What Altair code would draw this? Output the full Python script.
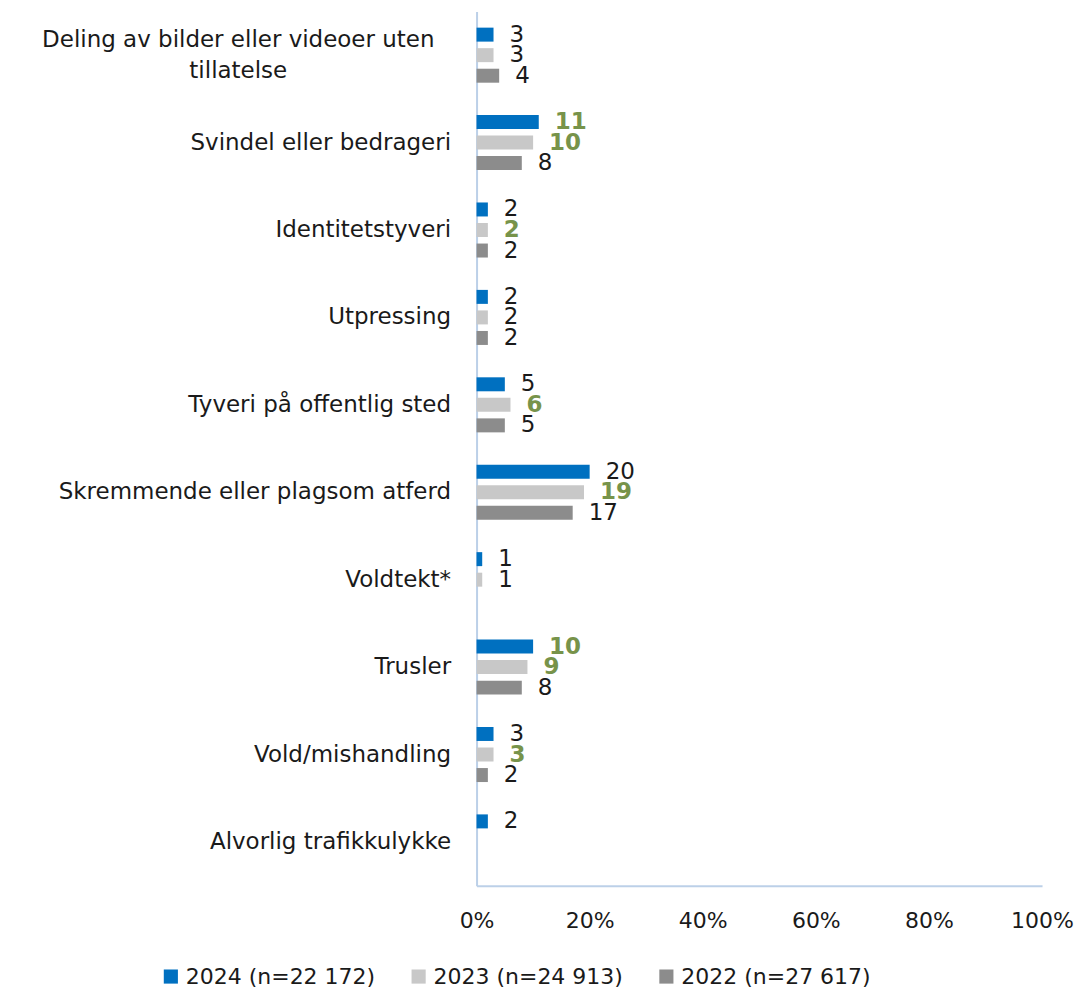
import altair as alt
import pandas as pd

categories = [
    "Deling av bilder eller videoer uten tillatelse",
    "Svindel eller bedrageri",
    "Identitetstyveri",
    "Utpressing",
    "Tyveri på offentlig sted",
    "Skremmende eller plagsom atferd",
    "Voldtekt*",
    "Trusler",
    "Vold/mishandling",
    "Alvorlig trafikkulykke",
]
series = ["2024 (n=22 172)", "2023 (n=24 913)", "2022 (n=27 617)"]
v2024 = [3, 11, 2, 2, 5, 20, 1, 10, 3, 2]
v2023 = [3, 10, 2, 2, 6, 19, 1, 9, 3, None]
v2022 = [4, 8, 2, 2, 5, 17, None, 8, 2, None]
sig2024 = [False, True, False, False, False, False, False, True, False, False]
sig2023 = [False, True, True, False, True, True, False, True, True, False]
sig2022 = [False] * 10
colors = ["#0070C0", "#C8C8C8", "#8C8C8C"]

rows = []
for s, vals, sig in zip(series, [v2024, v2023, v2022], [sig2024, sig2023, sig2022]):
    for c, v, g in zip(categories, vals, sig):
        if v is not None:
            rows.append({"cat": c, "series": s, "value": v, "sig": g})
df = pd.DataFrame(rows)

FONT = "DejaVu Sans"
FS = 22
LONG = "datum.value == 'Deling av bilder eller videoer uten tillatelse'"

base = alt.Chart(df).encode(
    y=alt.Y(
        "cat:N",
        sort=categories,
        title=None,
        scale=alt.Scale(paddingInner=0.3, paddingOuter=0.15),
        axis=alt.Axis(
            ticks=False,
            domainColor="#BCD0E8",
            domainWidth=2,
            labelFontSize=23,
            labelFont=FONT,
            labelColor="#1a1a1a",
            labelPadding=alt.condition(LONG, alt.value(239), alt.value(26)),
            labelAlign=alt.condition(LONG, alt.value("center"), alt.value("right")),
            labelOffset=alt.condition(LONG, alt.value(-15), alt.value(0)),
            labelLimit=500,
            minExtent=469,
            maxExtent=469,
            labelLineHeight=31,
            labelExpr=LONG + " ? ['Deling av bilder eller videoer uten', 'tillatelse'] : datum.value",
        ),
    ),
    yOffset=alt.YOffset(
        "series:N",
        sort=series,
        scale=alt.Scale(paddingInner=0.32, paddingOuter=0.15),
    ),
)

bars = base.mark_bar(size=14).encode(
    x=alt.X(
        "value:Q",
        scale=alt.Scale(domain=[0, 100], nice=False),
        title=None,
        axis=alt.Axis(
            values=[0, 20, 40, 60, 80, 100],
            labelExpr="datum.value + '%'",
            grid=False,
            ticks=False,
            domainColor="#BCD0E8",
            domainWidth=2,
            labelFontSize=FS,
            labelFont=FONT,
            labelColor="#1a1a1a",
            labelPadding=25,
            labelFlush=False,
            labelOverlap=False,
        ),
    ),
    color=alt.Color(
        "series:N",
        sort=series,
        scale=alt.Scale(domain=series, range=colors),
        legend=alt.Legend(
            title=None,
            orient="none",
            legendX=-317,
            legendY=955,
            direction="horizontal",
            symbolType="square",
            symbolSize=200,
            symbolStrokeWidth=0,
            labelFontSize=FS,
            labelFont=FONT,
            labelColor="#1a1a1a",
            labelLimit=400,
            columnPadding=32,
            symbolOffset=0,
            labelOffset=4,
        ),
    ),
)

labels_plain = base.mark_text(
    align="left", baseline="middle", dx=16, fontSize=23, font=FONT, color="#1a1a1a"
).encode(x="value:Q", text="value:Q").transform_filter("!datum.sig")

labels_sig = base.mark_text(
    align="left", baseline="middle", dx=16, fontSize=23, font=FONT, color="#77934A", fontWeight="bold"
).encode(x="value:Q", text="value:Q").transform_filter("datum.sig")

chart = (
    alt.layer(bars, labels_plain, labels_sig)
    .properties(width=566, height=875, padding={"left": 0, "top": 3, "right": 0, "bottom": 0})
    .configure_view(stroke=None)
)

chart.save("out.html", embed_options={"renderer": "svg", "actions": False})
